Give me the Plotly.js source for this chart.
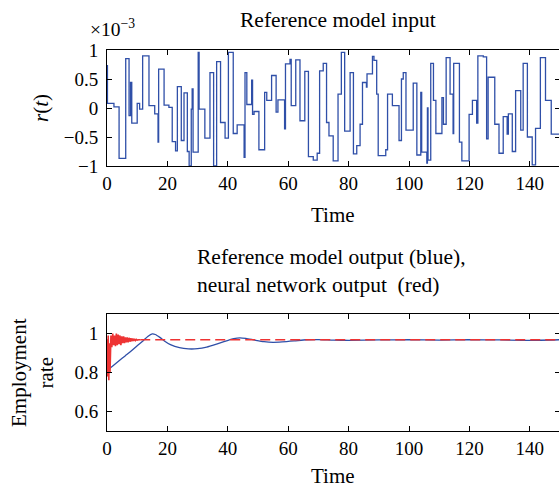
<!DOCTYPE html>
<html>
<head>
<meta charset="utf-8">
<script src="https://cdn.plot.ly/plotly-3.0.1.min.js"></script>
<style>html,body{margin:0;padding:0;overflow:hidden;background:#fff;}#chart{width:560px;height:487px;}</style>
</head>
<body>
<div id="chart"></div>
<script>
// Reference model input r(t), piecewise constant, values in units of 1e-3
const rTimes = [0, 0.15, 2.3, 4.0, 6.2, 7.3, 7.8, 8.2, 10.0, 10.8, 11.8, 13.9, 15.8, 16.9, 17.1, 18.9, 20.5, 21.6, 22.7, 23.3, 24.6, 25.5, 26.6, 27.2, 27.9, 28.2, 28.5, 30.2, 30.5, 32.4, 34.1, 35.3, 36.3, 37.6, 39.1, 40.2, 41.8, 43.1, 45.4, 45.7, 46.3, 47.9, 48.2, 48.7, 50.3, 52.2, 52.9, 54.5, 56.0, 56.6, 58.8, 59.1, 60.6, 61.0, 62.5, 63.9, 65.5, 66.7, 68.3, 69.6, 70.4, 71.6, 72.7, 73.5, 74.9, 76.5, 77.6, 78.7, 80.5, 81.6, 82.7, 83.8, 84.6, 85.9, 86.1, 87.9, 88.4, 89.3, 89.8, 92.3, 92.9, 94.5, 96.7, 97.5, 98.1, 99.0, 101.4, 102.6, 103.9, 104.2, 105.9, 106.1, 106.3, 107.2, 108.1, 108.9, 110.9, 111.4, 112.3, 113.6, 114.6, 114.8, 116.7, 117.5, 119.9, 121.0, 122.4, 122.8, 124.6, 125.7, 126.2, 128.4, 129.8, 131.2, 132.5, 132.9, 134.2, 135.3, 137.0, 137.8, 139.2, 140.8, 141.9, 143.5, 145.2, 147.1, 150];
const rValues = [0.73, 0.08, 0.02, -0.87, 0.85, -0.13, 0.44, -0.26, 0.08, -0.02, 0.9, 0.04, -0.1, -0.59, 0.67, 0.05, 0.01, -0.58, -0.74, 0.37, -0.56, 0.26, -0.75, -1.0, -0.02, 0.33, -0.76, 0.96, -0.02, -0.52, 0.61, -1.0, 0.8, -0.25, -0.52, 0.96, -0.44, -0.29, -0.85, 0.61, 0.06, 0.48, -0.11, -0.06, -0.72, 0.27, 0.13, 0.56, -0.07, 0.14, -0.36, 0.76, 0.84, 0.04, 0.83, -0.22, 0.63, -0.84, -0.9, -0.78, 0.64, 0.77, -0.25, -0.48, -0.91, 0.24, 0.96, -0.4, 0.61, -0.79, -0.65, -0.28, 0.44, 0.36, 0.59, 0.89, 0.82, 0.24, -0.82, -0.72, 0.24, 0.04, -0.56, 0.5, 0.61, -0.38, 0.43, -0.81, 0.27, -0.76, -0.95, 0.0, -0.9, 0.77, 0.13, -0.44, 0.18, -0.28, 0.87, 0.24, -0.44, 0.77, -0.59, -0.91, -0.11, 0.13, -0.26, 0.9, 0.88, -0.53, 0.53, -0.28, -0.78, -0.15, -0.45, -0.1, -0.75, 0.3, -0.38, 0.77, -0.5, -0.98, -0.35, 0.87, 0.13, -0.45, -0.45];

// Reference model output (blue)
const refTimes = [0, 2, 4, 6, 8, 10, 12, 13.5, 15, 16, 17.5, 19, 21, 24, 27, 30, 33, 36, 39, 42, 44, 46, 49, 52, 55, 58, 62, 66, 70, 75, 80, 90, 100, 110, 120, 130, 140, 150];
const refValues = [0.81, 0.835, 0.86, 0.885, 0.91, 0.937, 0.963, 0.985, 0.998, 0.995, 0.98, 0.962, 0.943, 0.927, 0.921, 0.922, 0.93, 0.944, 0.96, 0.974, 0.978, 0.975, 0.966, 0.958, 0.955, 0.957, 0.962, 0.968, 0.969, 0.966, 0.965, 0.967, 0.968, 0.966, 0.968, 0.967, 0.965, 0.968];

// Neural network output (red): transient part then steady value
const nnTimes = [0, 0.2, 0.4, 0.6, 0.8, 1.0, 1.3, 1.6, 1.9, 2.2, 2.5, 2.8, 3.1, 3.4, 3.7, 4.0, 4.3, 4.6, 4.9, 5.2, 5.5, 5.8, 6.1, 6.4, 6.7, 7.0, 7.3, 7.6, 7.9, 8.2, 8.5, 8.8, 9.1, 9.4, 9.7, 10.0, 10.5, 11];
const nnValues = [0.97, 0.78, 0.99, 0.76, 0.95, 0.8, 0.99, 0.93, 1.0, 0.94, 0.99, 0.935, 1.0, 0.94, 0.995, 0.945, 0.99, 0.94, 0.985, 0.95, 0.985, 0.95, 0.98, 0.955, 0.98, 0.955, 0.978, 0.958, 0.976, 0.96, 0.974, 0.962, 0.972, 0.964, 0.97, 0.966, 0.968, 0.968];
const nnSteadyTimes = [11, 150];
const nnSteadyValues = [0.968, 0.968];

const xTicks = [0, 20, 40, 60, 80, 100, 120, 140];
const rTicks = [-1, -0.5, 0, 0.5, 1];
const rTickText = ['−1', '−0.5', '0', '0.5', '1'];
const empTicks = [0.6, 0.8, 1];
const empTickText = ['0.6', '0.8', '1'];

const W = 560, H = 487;
const px = v => v / W;
const py = v => (H - v) / H;
const FONT = 'Liberation Serif, Times New Roman, serif';
const blue = '#2f4fa8';
const red = '#ee3333';

const traces = [
  {x: rTimes, y: rValues, type: 'scatter', mode: 'lines', line: {shape: 'hv', color: blue, width: 1.3}, xaxis: 'x', yaxis: 'y', hoverinfo: 'skip'},
  {x: refTimes, y: refValues, type: 'scatter', mode: 'lines', line: {shape: 'spline', smoothing: 0.6, color: blue, width: 1.3}, xaxis: 'x2', yaxis: 'y2', hoverinfo: 'skip'},
  {x: nnTimes, y: nnValues, type: 'scatter', mode: 'lines', line: {color: red, width: 1.6}, xaxis: 'x2', yaxis: 'y2', hoverinfo: 'skip'},
  {x: nnSteadyTimes, y: nnSteadyValues, type: 'scatter', mode: 'lines', line: {color: red, width: 1.6, dash: '10px,5px'}, xaxis: 'x2', yaxis: 'y2', hoverinfo: 'skip'}
];

const axBase = {
  showline: true, linecolor: '#000', linewidth: 1, mirror: 'ticks', ticks: 'inside', ticklen: 5,
  tickcolor: '#000', showgrid: false, zeroline: false, automargin: false,
  tickfont: {family: FONT, size: 19, color: '#000'}
};

const layout = {
  width: W, height: H,
  margin: {l: 0, r: 0, t: 0, b: 0, pad: 0},
  paper_bgcolor: '#fff', plot_bgcolor: '#fff',
  showlegend: false,
  font: {family: FONT, color: '#000'},
  xaxis: Object.assign({}, axBase, {domain: [px(107), 1], range: [0, 150], tickvals: xTicks, anchor: 'y'}),
  yaxis: Object.assign({}, axBase, {domain: [py(166), py(50)], range: [-1, 1], tickvals: rTicks, ticktext: rTickText, anchor: 'x', ticklabelstandoff: 4}),
  xaxis2: Object.assign({}, axBase, {domain: [px(107), 1], range: [0, 150], tickvals: xTicks, anchor: 'y2'}),
  yaxis2: Object.assign({}, axBase, {domain: [py(431), py(314)], range: [0.5, 1.1], tickvals: empTicks, ticktext: empTickText, anchor: 'x2', ticklabelstandoff: 4}),
  annotations: [
    {text: 'Reference model input', x: px(338), y: py(20), xref: 'paper', yref: 'paper', showarrow: false, font: {size: 21.5}, xanchor: 'center', yanchor: 'middle'},
    {text: '×10<sup>−3</sup>', x: px(88), y: py(28), xref: 'paper', yref: 'paper', showarrow: false, font: {size: 19.5}, xanchor: 'left', yanchor: 'middle'},
    {text: '<i>r</i>(<i>t</i>)', x: px(41), y: py(108), xref: 'paper', yref: 'paper', showarrow: false, font: {size: 21}, textangle: -90, xanchor: 'center', yanchor: 'middle'},
    {text: 'Time', x: px(333), y: py(215), xref: 'paper', yref: 'paper', showarrow: false, font: {size: 21}, xanchor: 'center', yanchor: 'middle'},
    {text: 'Reference model output (blue),<br>neural network output  (red)', x: px(195), y: py(271), xref: 'paper', yref: 'paper', showarrow: false, font: {size: 21.5}, align: 'left', xanchor: 'left', yanchor: 'middle'},
    {text: 'Employment<br>rate', x: px(32), y: py(373), xref: 'paper', yref: 'paper', showarrow: false, font: {size: 21}, textangle: -90, xanchor: 'center', yanchor: 'middle'},
    {text: 'Time', x: px(333), y: py(476), xref: 'paper', yref: 'paper', showarrow: false, font: {size: 21}, xanchor: 'center', yanchor: 'middle'}
  ]
};

Plotly.newPlot('chart', traces, layout, {staticPlot: true, displayModeBar: false});
</script>
</body>
</html>
